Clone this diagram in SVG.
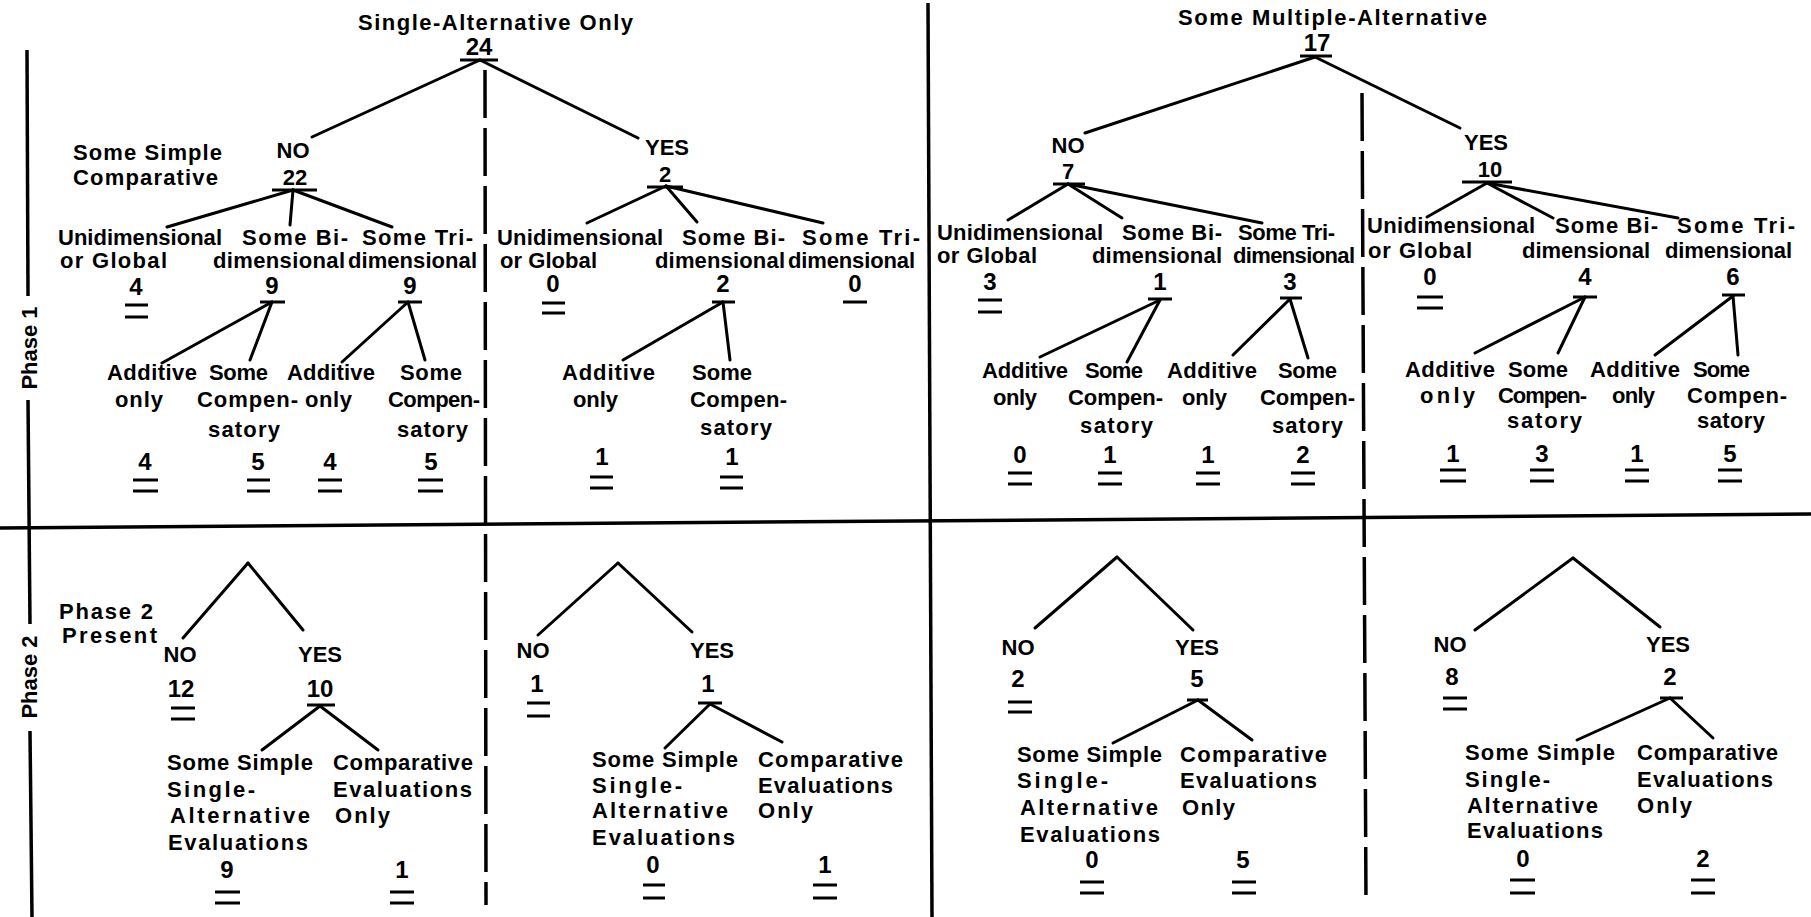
<svg xmlns="http://www.w3.org/2000/svg" width="1811" height="917" viewBox="0 0 1811 917">
<style>
text{font-family:"Liberation Sans",Arial,sans-serif;font-weight:bold;font-size:22px;fill:#000}
.m{text-anchor:middle;font-size:24px}
.s{text-anchor:middle;font-size:22px}
.c line{stroke:#000;stroke-width:3;stroke-linecap:round}
.u{stroke:#000;stroke-width:3;stroke-linecap:butt}
.d{stroke:#000;stroke-width:3.5;fill:none}
.dash{stroke:#000;stroke-width:3.5;stroke-dasharray:48 10}
.w{text-anchor:middle}
</style>
<rect width="1811" height="917" fill="#fff"/>
<g id="frame">
<line class="d" x1="27" y1="50" x2="28" y2="296"/>
<line class="d" x1="28" y1="400" x2="30" y2="624"/>
<line class="d" x1="30" y1="731" x2="32" y2="917"/>
<line class="d" x1="0" y1="528" x2="1811" y2="514"/>
<line class="d" x1="928" y1="3" x2="932" y2="917"/>
<line class="dash" x1="485" y1="70" x2="486" y2="905"/>
<line class="dash" x1="1362" y1="93" x2="1366" y2="905"/>
<text class="w" transform="translate(37,348) rotate(-90)">Phase 1</text>
<text class="w" transform="translate(37,677) rotate(-90)">Phase 2</text>
</g>
<g id="connectors" class="c">
<line x1="480" y1="60" x2="312" y2="137"/><line x1="480" y1="60" x2="638" y2="138"/>
<line x1="293" y1="190" x2="167" y2="227"/><line x1="293" y1="190" x2="290" y2="225"/><line x1="293" y1="190" x2="392" y2="227"/>
<line x1="272" y1="302" x2="162" y2="363"/><line x1="272" y1="302" x2="250" y2="360"/>
<line x1="408" y1="302" x2="342" y2="362"/><line x1="408" y1="302" x2="425" y2="360"/>
<line x1="666" y1="186" x2="587" y2="223"/><line x1="666" y1="186" x2="697" y2="222"/><line x1="666" y1="186" x2="823" y2="223"/>
<line x1="723" y1="302" x2="623" y2="360"/><line x1="723" y1="302" x2="730" y2="360"/>
<line x1="1315" y1="57" x2="1085" y2="133"/><line x1="1315" y1="57" x2="1460" y2="128"/>
<line x1="1068" y1="184" x2="1008" y2="220"/><line x1="1068" y1="184" x2="1122" y2="218"/><line x1="1068" y1="184" x2="1262" y2="223"/>
<line x1="1160" y1="300" x2="1040" y2="357"/><line x1="1160" y1="300" x2="1127" y2="362"/>
<line x1="1290" y1="299" x2="1233" y2="355"/><line x1="1290" y1="299" x2="1308" y2="358"/>
<line x1="1487" y1="183" x2="1427" y2="217"/><line x1="1487" y1="183" x2="1553" y2="218"/><line x1="1487" y1="183" x2="1678" y2="218"/>
<line x1="1585" y1="297" x2="1475" y2="353"/><line x1="1585" y1="297" x2="1558" y2="353"/>
<line x1="1733" y1="296" x2="1655" y2="355"/><line x1="1733" y1="296" x2="1738" y2="355"/>
<line x1="248" y1="563" x2="183" y2="638"/><line x1="248" y1="563" x2="303" y2="630"/>
<line x1="320" y1="706" x2="262" y2="750"/><line x1="320" y1="706" x2="378" y2="750"/>
<line x1="618" y1="563" x2="538" y2="635"/><line x1="618" y1="563" x2="692" y2="632"/>
<line x1="710" y1="704" x2="665" y2="748"/><line x1="710" y1="704" x2="782" y2="742"/>
<line x1="1117" y1="557" x2="1035" y2="628"/><line x1="1117" y1="557" x2="1193" y2="630"/>
<line x1="1198" y1="700" x2="1113" y2="743"/><line x1="1198" y1="700" x2="1252" y2="740"/>
<line x1="1573" y1="558" x2="1475" y2="630"/><line x1="1573" y1="558" x2="1660" y2="627"/>
<line x1="1670" y1="698" x2="1577" y2="740"/><line x1="1670" y1="698" x2="1713" y2="738"/>
</g>
<!-- Panel A -->
<g id="a-root"><text x="358" y="30" textLength="275">Single-Alternative Only</text><text class="m" x="479" y="55">24</text><line class="u" x1="460" y1="60" x2="498" y2="60"/></g>
<g id="a-label"><text x="73" y="160" textLength="149">Some Simple</text><text x="73" y="185" textLength="145">Comparative</text></g>
<g id="a-no"><text class="w" x="293" y="158">NO</text><text class="s" x="295" y="185">22</text><line class="u" x1="272" y1="190" x2="317" y2="190"/></g>
<g id="a-uni"><text x="58" y="245" textLength="164">Unidimensional</text><text x="60" y="268" textLength="107">or Global</text><text class="m" x="136" y="295">4</text><line class="u" x1="125" y1="305" x2="148" y2="305"/><line class="u" x1="125" y1="317" x2="148" y2="317"/></g>
<g id="a-bi"><text x="242" y="245" textLength="106">Some Bi-</text><text x="213" y="268" textLength="132">dimensional</text><text class="m" x="272" y="294">9</text><line class="u" x1="260" y1="302" x2="285" y2="302"/></g>
<g id="a-tri"><text x="362" y="245" textLength="111">Some Tri-</text><text x="348" y="268" textLength="129">dimensional</text><text class="m" x="410" y="294">9</text><line class="u" x1="398" y1="302" x2="422" y2="302"/></g>
<g id="a-bi-add"><text x="107" y="380" textLength="90">Additive</text><text x="115" y="407" textLength="48">only</text><text class="m" x="145" y="470">4</text><line class="u" x1="133" y1="480" x2="158" y2="480"/><line class="u" x1="133" y1="491" x2="158" y2="491"/></g>
<g id="a-bi-comp"><text x="209" y="380" textLength="59">Some</text><text x="197" y="407" textLength="101">Compen-</text><text x="208" y="437" textLength="72">satory</text><text class="m" x="258" y="470">5</text><line class="u" x1="247" y1="480" x2="270" y2="480"/><line class="u" x1="247" y1="491" x2="270" y2="491"/></g>
<g id="a-tri-add"><text x="287" y="380" textLength="88">Additive</text><text x="305" y="407" textLength="47">only</text><text class="m" x="330" y="470">4</text><line class="u" x1="318" y1="480" x2="342" y2="480"/><line class="u" x1="318" y1="491" x2="342" y2="491"/></g>
<g id="a-tri-comp"><text x="400" y="380" textLength="62">Some</text><text x="388" y="407" textLength="92">Compen-</text><text x="397" y="437" textLength="71">satory</text><text class="m" x="431" y="470">5</text><line class="u" x1="418" y1="480" x2="443" y2="480"/><line class="u" x1="418" y1="491" x2="443" y2="491"/></g>
<!-- Panel B -->
<g id="b-yes"><text class="w" x="667" y="155">YES</text><text class="s" x="665" y="182">2</text><line class="u" x1="647" y1="187" x2="683" y2="187"/></g>
<g id="b-uni"><text x="497" y="245" textLength="166">Unidimensional</text><text x="500" y="268" textLength="97">or Global</text><text class="m" x="553" y="292">0</text><line class="u" x1="542" y1="303" x2="565" y2="303"/><line class="u" x1="542" y1="313" x2="565" y2="313"/></g>
<g id="b-bi"><text x="682" y="245" textLength="103">Some Bi-</text><text x="655" y="268" textLength="130">dimensional</text><text class="m" x="723" y="292">2</text><line class="u" x1="712" y1="302" x2="735" y2="302"/></g>
<g id="b-tri"><text x="802" y="245" textLength="118">Some Tri-</text><text x="788" y="268" textLength="127">dimensional</text><text class="m" x="855" y="292">0</text><line class="u" x1="843" y1="302" x2="867" y2="302"/></g>
<g id="b-bi-add"><text x="562" y="380" textLength="93">Additive</text><text x="573" y="407" textLength="45">only</text><text class="m" x="602" y="465">1</text><line class="u" x1="590" y1="477" x2="613" y2="477"/><line class="u" x1="590" y1="488" x2="613" y2="488"/></g>
<g id="b-bi-comp"><text x="692" y="380" textLength="60">Some</text><text x="690" y="407" textLength="97">Compen-</text><text x="700" y="435" textLength="72">satory</text><text class="m" x="732" y="465">1</text><line class="u" x1="720" y1="477" x2="743" y2="477"/><line class="u" x1="720" y1="488" x2="743" y2="488"/></g>
<!-- Panel C -->
<g id="c-root"><text x="1178" y="25" textLength="309">Some Multiple-Alternative</text><text class="m" x="1317" y="51">17</text><line class="u" x1="1300" y1="56" x2="1332" y2="56"/></g>
<g id="c-no"><text class="w" x="1068" y="153">NO</text><text class="s" x="1068" y="179">7</text><line class="u" x1="1053" y1="184" x2="1085" y2="184"/></g>
<g id="c-uni"><text x="937" y="240" textLength="166">Unidimensional</text><text x="937" y="263" textLength="100">or Global</text><text class="m" x="990" y="290">3</text><line class="u" x1="978" y1="300" x2="1002" y2="300"/><line class="u" x1="978" y1="312" x2="1002" y2="312"/></g>
<g id="c-bi"><text x="1122" y="240" textLength="100">Some Bi-</text><text x="1092" y="263" textLength="130">dimensional</text><text class="m" x="1160" y="290">1</text><line class="u" x1="1148" y1="299" x2="1172" y2="299"/></g>
<g id="c-tri"><text x="1238" y="240" textLength="97">Some Tri-</text><text x="1233" y="263" textLength="122">dimensional</text><text class="m" x="1290" y="290">3</text><line class="u" x1="1280" y1="298" x2="1302" y2="298"/></g>
<g id="c-bi-add"><text x="982" y="378" textLength="86">Additive</text><text x="993" y="405" textLength="44">only</text><text class="m" x="1020" y="463">0</text><line class="u" x1="1008" y1="473" x2="1032" y2="473"/><line class="u" x1="1008" y1="484" x2="1032" y2="484"/></g>
<g id="c-bi-comp"><text x="1085" y="378" textLength="58">Some</text><text x="1068" y="405" textLength="95">Compen-</text><text x="1080" y="433" textLength="73">satory</text><text class="m" x="1110" y="463">1</text><line class="u" x1="1098" y1="473" x2="1122" y2="473"/><line class="u" x1="1098" y1="484" x2="1122" y2="484"/></g>
<g id="c-tri-add"><text x="1167" y="378" textLength="90">Additive</text><text x="1182" y="405" textLength="45">only</text><text class="m" x="1208" y="463">1</text><line class="u" x1="1196" y1="473" x2="1220" y2="473"/><line class="u" x1="1196" y1="484" x2="1220" y2="484"/></g>
<g id="c-tri-comp"><text x="1278" y="378" textLength="59">Some</text><text x="1260" y="405" textLength="95">Compen-</text><text x="1272" y="433" textLength="71">satory</text><text class="m" x="1303" y="463">2</text><line class="u" x1="1291" y1="473" x2="1315" y2="473"/><line class="u" x1="1291" y1="484" x2="1315" y2="484"/></g>
<!-- Panel D -->
<g id="d-yes"><text class="w" x="1486" y="150">YES</text><text class="s" x="1490" y="177">10</text><line class="u" x1="1462" y1="182" x2="1512" y2="182"/></g>
<g id="d-uni"><text x="1367" y="233" textLength="168">Unidimensional</text><text x="1368" y="258" textLength="104">or Global</text><text class="m" x="1430" y="285">0</text><line class="u" x1="1417" y1="297" x2="1443" y2="297"/><line class="u" x1="1417" y1="308" x2="1443" y2="308"/></g>
<g id="d-bi"><text x="1555" y="233" textLength="103">Some Bi-</text><text x="1522" y="258" textLength="128">dimensional</text><text class="m" x="1585" y="285">4</text><line class="u" x1="1573" y1="297" x2="1597" y2="297"/></g>
<g id="d-tri"><text x="1677" y="233" textLength="118">Some Tri-</text><text x="1665" y="258" textLength="127">dimensional</text><text class="m" x="1733" y="285">6</text><line class="u" x1="1722" y1="295" x2="1745" y2="295"/></g>
<g id="d-bi-add"><text x="1405" y="377" textLength="90">Additive</text><text x="1420" y="403" textLength="55">only</text><text class="m" x="1453" y="462">1</text><line class="u" x1="1440" y1="470" x2="1466" y2="470"/><line class="u" x1="1440" y1="481" x2="1466" y2="481"/></g>
<g id="d-bi-comp"><text x="1508" y="377" textLength="60">Some</text><text x="1498" y="403" textLength="89">Compen-</text><text x="1507" y="428" textLength="75">satory</text><text class="m" x="1542" y="462">3</text><line class="u" x1="1530" y1="470" x2="1554" y2="470"/><line class="u" x1="1530" y1="481" x2="1554" y2="481"/></g>
<g id="d-tri-add"><text x="1590" y="377" textLength="90">Additive</text><text x="1612" y="403" textLength="43">only</text><text class="m" x="1637" y="462">1</text><line class="u" x1="1625" y1="470" x2="1649" y2="470"/><line class="u" x1="1625" y1="481" x2="1649" y2="481"/></g>
<g id="d-tri-comp"><text x="1693" y="377" textLength="57">Some</text><text x="1687" y="403" textLength="100">Compen-</text><text x="1697" y="428" textLength="68">satory</text><text class="m" x="1730" y="462">5</text><line class="u" x1="1718" y1="470" x2="1742" y2="470"/><line class="u" x1="1718" y1="481" x2="1742" y2="481"/></g>
<!-- Phase 2 Panel E -->
<g id="e-label"><text x="59" y="619" textLength="94">Phase 2</text><text x="62" y="643" textLength="95">Present</text></g>
<g id="e-no"><text class="w" x="180" y="662">NO</text><text class="m" x="181" y="697">12</text><line class="u" x1="171" y1="708" x2="195" y2="708"/><line class="u" x1="171" y1="719" x2="195" y2="719"/></g>
<g id="e-yes"><text class="w" x="320" y="662">YES</text><text class="m" x="320" y="697">10</text><line class="u" x1="307" y1="705" x2="335" y2="705"/></g>
<g id="e-single"><text x="167" y="770" textLength="146">Some Simple</text><text x="167" y="797" textLength="88">Single-</text><text x="170" y="823" textLength="140">Alternative</text><text x="168" y="850" textLength="140">Evaluations</text><text class="m" x="227" y="878">9</text><line class="u" x1="215" y1="892" x2="240" y2="892"/><line class="u" x1="215" y1="903" x2="240" y2="903"/></g>
<g id="e-comp"><text x="333" y="770" textLength="140">Comparative</text><text x="333" y="797" textLength="139">Evaluations</text><text x="335" y="823" textLength="55">Only</text><text class="m" x="402" y="878">1</text><line class="u" x1="390" y1="892" x2="414" y2="892"/><line class="u" x1="390" y1="903" x2="414" y2="903"/></g>
<!-- Panel F -->
<g id="f-no"><text class="w" x="533" y="658">NO</text><text class="m" x="537" y="692">1</text><line class="u" x1="527" y1="703" x2="550" y2="703"/><line class="u" x1="527" y1="716" x2="550" y2="716"/></g>
<g id="f-yes"><text class="w" x="712" y="658">YES</text><text class="m" x="708" y="692">1</text><line class="u" x1="698" y1="703" x2="722" y2="703"/></g>
<g id="f-single"><text x="592" y="767" textLength="146">Some Simple</text><text x="592" y="793" textLength="90">Single-</text><text x="592" y="818" textLength="136">Alternative</text><text x="592" y="845" textLength="143">Evaluations</text><text class="m" x="653" y="873">0</text><line class="u" x1="643" y1="885" x2="665" y2="885"/><line class="u" x1="643" y1="898" x2="665" y2="898"/></g>
<g id="f-comp"><text x="758" y="767" textLength="145">Comparative</text><text x="758" y="793" textLength="135">Evaluations</text><text x="758" y="818" textLength="55">Only</text><text class="m" x="825" y="873">1</text><line class="u" x1="813" y1="885" x2="837" y2="885"/><line class="u" x1="813" y1="898" x2="837" y2="898"/></g>
<!-- Panel G -->
<g id="g-no"><text class="w" x="1018" y="655">NO</text><text class="m" x="1018" y="687">2</text><line class="u" x1="1008" y1="702" x2="1032" y2="702"/><line class="u" x1="1008" y1="712" x2="1032" y2="712"/></g>
<g id="g-yes"><text class="w" x="1197" y="655">YES</text><text class="m" x="1197" y="687">5</text><line class="u" x1="1187" y1="700" x2="1208" y2="700"/></g>
<g id="g-single"><text x="1017" y="762" textLength="145">Some Simple</text><text x="1017" y="788" textLength="91">Single-</text><text x="1020" y="815" textLength="138">Alternative</text><text x="1020" y="842" textLength="140">Evaluations</text><text class="m" x="1092" y="868">0</text><line class="u" x1="1080" y1="882" x2="1104" y2="882"/><line class="u" x1="1080" y1="893" x2="1104" y2="893"/></g>
<g id="g-comp"><text x="1180" y="762" textLength="147">Comparative</text><text x="1180" y="788" textLength="137">Evaluations</text><text x="1182" y="815" textLength="53">Only</text><text class="m" x="1243" y="868">5</text><line class="u" x1="1232" y1="882" x2="1256" y2="882"/><line class="u" x1="1232" y1="893" x2="1256" y2="893"/></g>
<!-- Panel H -->
<g id="h-no"><text class="w" x="1450" y="652">NO</text><text class="m" x="1452" y="685">8</text><line class="u" x1="1443" y1="698" x2="1467" y2="698"/><line class="u" x1="1443" y1="709" x2="1467" y2="709"/></g>
<g id="h-yes"><text class="w" x="1668" y="652">YES</text><text class="m" x="1670" y="685">2</text><line class="u" x1="1660" y1="698" x2="1683" y2="698"/></g>
<g id="h-single"><text x="1465" y="760" textLength="150">Some Simple</text><text x="1465" y="787" textLength="85">Single-</text><text x="1467" y="813" textLength="131">Alternative</text><text x="1467" y="838" textLength="136">Evaluations</text><text class="m" x="1523" y="867">0</text><line class="u" x1="1510" y1="880" x2="1535" y2="880"/><line class="u" x1="1510" y1="893" x2="1535" y2="893"/></g>
<g id="h-comp"><text x="1637" y="760" textLength="141">Comparative</text><text x="1637" y="787" textLength="136">Evaluations</text><text x="1637" y="813" textLength="55">Only</text><text class="m" x="1703" y="867">2</text><line class="u" x1="1691" y1="880" x2="1715" y2="880"/><line class="u" x1="1691" y1="893" x2="1715" y2="893"/></g>
</svg>
